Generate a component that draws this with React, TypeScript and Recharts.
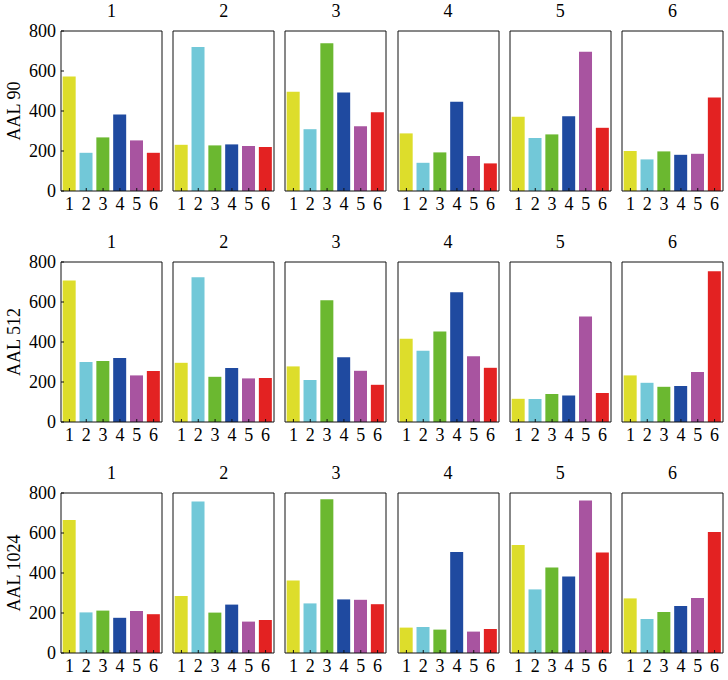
import React from "react";
import { Bar, BarChart, Cell, XAxis, YAxis } from "recharts";

const groups = ["1", "2", "3", "4", "5", "6"];
const rowLabels = ["AAL 90", "AAL 512", "AAL 1024"];
const yTicks = [0, 200, 400, 600, 800];
const colors = ["#dddd2b", "#72c8d8", "#6bb830", "#1f4aa0", "#a854a0", "#e32222"];

// one list of 6 bar heights per panel, row by row
const aal90 = [
  [572, 191, 268, 383, 253, 191],
  [231, 720, 228, 233, 225, 220],
  [496, 309, 739, 493, 324, 394],
  [288, 141, 193, 446, 175, 138],
  [371, 265, 283, 374, 696, 316],
  [200, 158, 198, 181, 186, 468],
];
const aal512 = [
  [707, 300, 305, 320, 233, 255],
  [296, 724, 226, 270, 218, 220],
  [278, 210, 609, 324, 256, 186],
  [416, 356, 453, 649, 329, 271],
  [116, 115, 140, 133, 527, 145],
  [233, 196, 176, 180, 250, 754],
];
const aal1024 = [
  [665, 203, 212, 176, 210, 194],
  [285, 757, 202, 242, 157, 165],
  [362, 248, 769, 268, 266, 244],
  [127, 130, 117, 505, 107, 120],
  [540, 318, 428, 382, 762, 502],
  [273, 170, 205, 235, 275, 605],
];
const rows = [aal90, aal512, aal1024];

const FONT = "'Liberation Serif', 'DejaVu Serif', serif";
const PLOT_W = 101;
const PLOT_H = 160;
const COL_LEFT = 61;
const COL_STEP = 112.2;
const ROW_TOPS = [31, 262, 493];
const X_AXIS_H = 28;
const PAD = 10;

function Panel({ values, row, col }: { values: number[]; row: number; col: number }) {
  const data = groups.map((name, i) => ({ name, v: values[i] }));
  const yw = col === 0 ? 50 : 1;
  const left = COL_LEFT + col * COL_STEP - yw;
  const top = ROW_TOPS[row] - PAD - 1;
  const tickStyle = { fontFamily: FONT, fontSize: 18, fill: "#000" };
  return (
    <div style={{ position: "absolute", left, top }}>
      <BarChart
        width={yw + PLOT_W + 1 + 2}
        height={PLOT_H + X_AXIS_H + PAD + 1}
        data={data}
        margin={{ top: PAD, right: 2, bottom: 0, left: 0 }}
        barCategoryGap="10%"
      >
        <XAxis
          dataKey="name"
          height={X_AXIS_H}
          tickSize={-3}
          tickMargin={9}
          tick={tickStyle}
          stroke="#111"
          interval={0}
        />
        <XAxis
          xAxisId="top"
          dataKey="name"
          orientation="top"
          height={1}
          tickSize={-3}
          tick={false}
          stroke="#111"
          interval={0}
        />
        <YAxis
          domain={[0, 800]}
          ticks={yTicks}
          width={yw}
          tickSize={-3}
          tickMargin={8}
          tick={col === 0 ? tickStyle : false}
          stroke="#111"
          interval={0}
        />
        <YAxis
          yAxisId="right"
          orientation="right"
          domain={[0, 800]}
          ticks={yTicks}
          width={1}
          tickSize={-3}
          tick={false}
          stroke="#111"
          interval={0}
        />
        <Bar dataKey="v" isAnimationActive={false}>
          {data.map((d, i) => (
            <Cell key={d.name} fill={colors[i]} />
          ))}
        </Bar>
      </BarChart>
    </div>
  );
}

export default function App() {
  return (
    <div style={{ position: "absolute", left: 0, top: 0, width: 728, height: 680, background: "#fff", fontFamily: FONT }}>
      {rows.map((panels, r) => (
        <React.Fragment key={rowLabels[r]}>
          <div
            style={{
              position: "absolute",
              left: 14,
              top: ROW_TOPS[r] + PLOT_H / 2,
              transform: "translate(-50%, -50%) rotate(-90deg)",
              fontSize: 18,
              whiteSpace: "nowrap",
            }}
          >
            {rowLabels[r]}
          </div>
          {panels.map((vals, c) => (
            <React.Fragment key={c}>
              <div
                style={{
                  position: "absolute",
                  left: COL_LEFT + c * COL_STEP,
                  width: PLOT_W,
                  top: ROW_TOPS[r] - 30,
                  textAlign: "center",
                  fontSize: 18,
                  lineHeight: "20px",
                }}
              >
                {groups[c]}
              </div>
              <Panel values={vals} row={r} col={c} />
            </React.Fragment>
          ))}
        </React.Fragment>
      ))}
    </div>
  );
}
